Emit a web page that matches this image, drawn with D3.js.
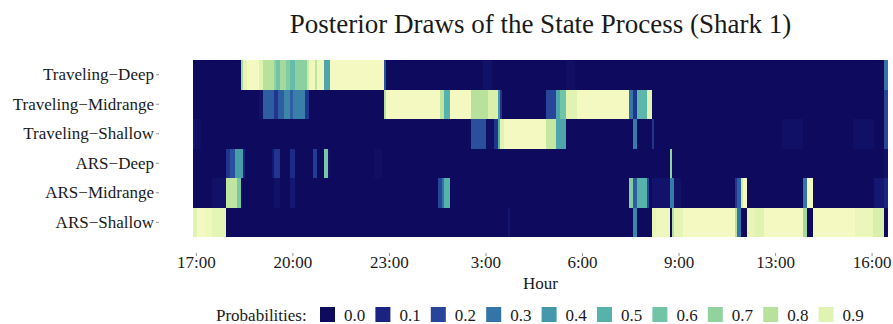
<!DOCTYPE html>
<html>
<head>
<meta charset="utf-8">
<script src="https://cdn.jsdelivr.net/npm/d3@7"></script>
<style>
  body { margin: 0; background: #fff; }
  text { font-family: "Liberation Serif", "Times New Roman", serif; fill: #1a1a1a; }
</style>
</head>
<body>
<div id="chart"></div>
<script>
// states, top to bottom
const states = ["Traveling−Deep", "Traveling−Midrange", "Traveling−Shallow",
  "ARS−Deep", "ARS−Midrange", "ARS−Shallow"];

const nSteps = 360;

// x ticks (time step index -> hour label)
const tickIndex = [1, 51, 101, 151, 201, 251, 301, 351];
const tickLabels = ["17:00", "20:00", "23:00", "3:00", "6:00", "9:00", "13:00", "16:00"];

// legend
const legendBreaks = [0, 0.1, 0.2, 0.3, 0.4, 0.5, 0.6, 0.7, 0.8, 0.9];
const paletteStops = [0, 0.1, 0.2, 0.3, 0.4, 0.5, 0.6, 0.7, 0.8, 0.9, 1];
const paletteColors = ["#0e0b5f", "#1a2382", "#27469a", "#3474a9", "#4597ab", "#56b3ac",
  "#72c4a6", "#92d29f", "#b8e29c", "#e0f3b0", "#fbfbc8"];

// posterior probability runs per state: [start step, end step, probability], rest is 0
const travelingDeep = [[25, 26, 0.75], [26, 28, 0.93], [28, 34, 0.97], [34, 36, 0.9], [36, 42, 0.8],
  [42, 43, 0.7], [43, 45, 0.6], [45, 48, 0.75], [48, 50, 0.65], [50, 53, 0.55], [53, 59, 0.68],
  [59, 60, 0.85], [60, 63, 0.96], [63, 64, 0.82], [64, 68, 0.95], [68, 71, 0.45], [71, 99, 0.97],
  [99, 100, 0.22], [150, 155, 0.025], [193, 198, 0.015], [358, 360, 0.3]];
const travelingMid = [[34, 36, 0.025], [36, 42, 0.25], [42, 44, 0.15], [44, 47, 0.25], [47, 50, 0.35],
  [50, 52, 0.25], [52, 58, 0.33], [58, 60, 0.15], [99, 100, 0.8], [100, 128, 0.97], [128, 130, 0.82],
  [130, 133, 0.5], [133, 144, 0.97], [144, 153, 0.8], [153, 158, 0.88], [158, 159, 0.4],
  [159, 160, 0.15], [183, 188, 0.2], [188, 190, 0.45], [190, 193, 0.6], [193, 199, 0.9],
  [199, 226, 0.97], [226, 228, 0.3], [228, 230, 0.15], [230, 235, 0.52], [235, 238, 0.9],
  [358, 360, 0.2]];
const travelingShallow = [[0, 1, 0.05], [1, 4, 0.015], [144, 152, 0.22], [152, 156, 0.015],
  [156, 158, 0.15], [158, 159, 0.5], [159, 161, 0.9], [161, 183, 0.97], [183, 188, 0.83],
  [188, 193, 0.45], [228, 230, 0.32], [238, 239, 0.15], [305, 316, 0.02], [342, 353, 0.02],
  [358, 360, 0.2]];
const arsDeep = [[17, 19, 0.15], [19, 22, 0.22], [22, 26, 0.42], [26, 27, 0.1], [41, 42, 0.05],
  [42, 45, 0.15], [50, 53, 0.12], [62, 64, 0.17], [68, 70, 0.62], [70, 71, 0.03], [94, 98, 0.015],
  [247, 248, 0.7], [358, 360, 0.025]];
const arsMid = [[10, 17, 0.025], [17, 23, 0.82], [23, 25, 0.62], [42, 45, 0.025], [50, 53, 0.05],
  [127, 129, 0.2], [129, 130, 0.3], [130, 133, 0.5], [226, 228, 0.65], [228, 230, 0.25],
  [230, 235, 0.5], [235, 236, 0.2], [238, 247, 0.03], [247, 249, 0.32], [249, 253, 0.025],
  [281, 282, 0.15], [282, 284, 0.25], [284, 285, 0.85], [285, 287, 0.97], [316, 318, 0.3],
  [318, 321, 0.97], [353, 358, 0.05], [358, 360, 0.1]];
const arsShallow = [[0, 2, 0.9], [2, 6, 0.97], [6, 10, 0.95], [10, 17, 0.92], [163, 164, 0.05],
  [228, 230, 0.35], [238, 240, 0.93], [240, 247, 0.95], [248, 249, 0.8], [249, 254, 0.92],
  [254, 281, 0.97], [281, 282, 0.8], [282, 284, 0.3], [287, 291, 0.93], [291, 296, 0.9],
  [296, 316, 0.97], [316, 318, 0.75], [321, 343, 0.97], [343, 352, 0.94], [352, 358, 0.88]];

const stateRuns = [travelingDeep, travelingMid, travelingShallow, arsDeep, arsMid, arsShallow];

class HeatmapVis {
  constructor(_parentElement) {
    this.parentElement = _parentElement;
    this.initVis();
  }

  initVis() {
    let vis = this;

    vis.width = 893;
    vis.height = 324;
    vis.margin = { top: 60, right: 5, bottom: 87, left: 193 };

    vis.svg = d3.select("#" + vis.parentElement)
      .append("svg")
      .attr("width", vis.width)
      .attr("height", vis.height);

    vis.x = d3.scaleLinear().domain([0, nSteps]).range([vis.margin.left, vis.width - vis.margin.right]);
    vis.y = d3.scaleBand().domain(states).range([vis.margin.top, vis.height - vis.margin.bottom]);
    vis.color = d3.scaleLinear().domain(paletteStops).range(paletteColors).interpolate(d3.interpolateRgb);

    vis.wrangleData();
  }

  wrangleData() {
    let vis = this;

    // expand runs into one cell per time step
    vis.cells = [];
    states.forEach((s, i) => {
      let probs = new Array(nSteps).fill(0);
      stateRuns[i].forEach(r => {
        for (let t = r[0]; t < r[1]; t++) probs[t] = r[2];
      });
      probs.forEach((p, t) => vis.cells.push({ state: s, step: t, prob: p }));
    });

    vis.updateVis();
  }

  updateVis() {
    let vis = this;

    vis.svg.append("g")
      .selectAll("rect")
      .data(vis.cells)
      .join("rect")
      .attr("x", d => vis.x(d.step))
      .attr("width", d => vis.x(d.step + 1) - vis.x(d.step) + 0.3)
      .attr("y", d => vis.y(d.state))
      .attr("height", vis.y.bandwidth() + 0.3)
      .attr("fill", d => vis.color(d.prob))
      .attr("shape-rendering", "crispEdges");

    // x axis, ticks sit a little below the tiles
    let xAxis = d3.axisBottom(vis.x)
      .tickValues(tickIndex.map(d => d + 0.5))
      .tickFormat((d, i) => tickLabels[i])
      .tickSize(3)
      .tickSizeOuter(0)
      .tickPadding(0);

    vis.svg.append("g")
      .attr("class", "x-axis")
      .attr("transform", "translate(0,253)")
      .call(xAxis)
      .call(g => g.select(".domain").remove())
      .call(g => g.selectAll("line").attr("stroke", "#4d4d4d").attr("stroke-width", 0.6))
      .call(g => g.selectAll("text").attr("font-size", 17).attr("fill", "#1a1a1a")
        .attr("font-family", "Liberation Serif"));

    // y axis
    let yAxis = d3.axisLeft(vis.y).tickSize(3).tickSizeOuter(0).tickPadding(2);

    vis.svg.append("g")
      .attr("class", "y-axis")
      .attr("transform", "translate(" + (vis.margin.left - 34) + ",0)")
      .call(yAxis)
      .call(g => g.select(".domain").remove())
      .call(g => g.selectAll("line").attr("stroke", "#4d4d4d").attr("stroke-width", 0.6))
      .call(g => g.selectAll("text").attr("font-size", 17).attr("fill", "#1a1a1a")
        .attr("font-family", "Liberation Serif"));

    // title and axis title
    vis.svg.append("text")
      .attr("x", (vis.margin.left + vis.width - vis.margin.right) / 2)
      .attr("y", 33)
      .attr("text-anchor", "middle")
      .attr("font-size", 27)
      .text("Posterior Draws of the State Process (Shark 1)");

    vis.svg.append("text")
      .attr("x", (vis.margin.left + vis.width - vis.margin.right) / 2)
      .attr("y", 289)
      .attr("text-anchor", "middle")
      .attr("font-size", 17)
      .text("Hour");

    // legend
    let legend = vis.svg.append("g").attr("transform", "translate(0,307)");

    legend.append("text")
      .attr("x", 216)
      .attr("y", 13.5)
      .attr("font-size", 17)
      .text("Probabilities:");

    let keys = legend.selectAll(".key")
      .data(legendBreaks)
      .join("g")
      .attr("class", "key")
      .attr("transform", (d, i) => "translate(" + (320 + i * 55.4) + ",0)");

    keys.append("rect")
      .attr("width", 15)
      .attr("height", 15)
      .attr("fill", d => vis.color(d));

    keys.append("text")
      .attr("x", 24)
      .attr("y", 13.5)
      .attr("font-size", 17)
      .text(d => d.toFixed(1));
  }
}

new HeatmapVis("chart");
</script>
</body>
</html>
